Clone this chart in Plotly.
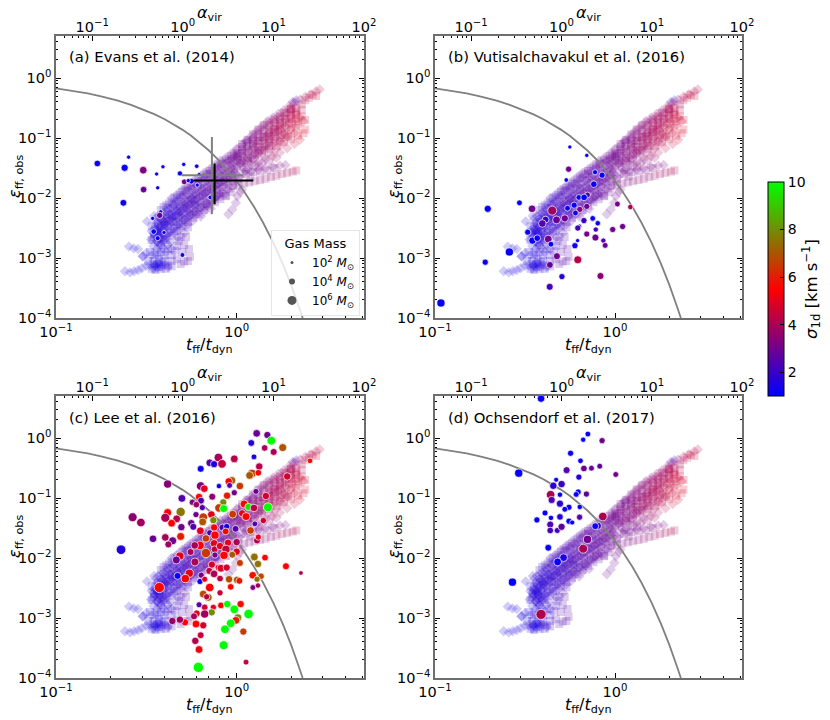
import plotly.graph_objects as go

FONT = "DejaVu Sans"
W, H = 830, 720

# ---- shared theory curve
curve_x = [.1,.12,.15,.18,.22,.26,.3,.35,.4,.45,.5,.56,.63,.7,.8,.9,1,1.1,1.25,1.4,1.6,1.8,2,2.2,2.32]
curve_eps = [.673,.622,.552,.49,.419,.357,.305,.25,.205,.168,.138,.109,.0824,.0625,.0421,.0283,.0191,.0128,
             .00708,.00391,.00177,.0008,.00036,.00016,.0001]

# ---- simulation cloud: (log10 tff/tdyn, log10 eps, sigma)
sq_low_branch = [(-.02,-1.80,2.8),(.01,-1.78,3.0),(.04,-1.76,3.1),(.07,-1.74,3.2),(.10,-1.72,3.3),(.13,-1.70,3.4),(.16,-1.68,3.5),
                 (.19,-1.65,3.6),(.22,-1.63,3.7),(.25,-1.60,3.8),(.28,-1.58,3.9),(.31,-1.56,4.0),(.33,-1.54,4.1)]
sq_t2 = [(.0,-1.25,2.9),(.03,-1.19,3.0),(.06,-1.13,3.1),(.09,-1.06,3.2),(.12,-.99,3.3),(.15,-.93,3.5),(.18,-.87,3.6),(.21,-.80,3.7),
         (.24,-.74,3.8),(.27,-.68,3.9),(.30,-.62,4.0),(.33,-.56,4.2),(.36,-.53,4.3)]
sq_t3 = [(-.03,-1.38,2.8),(.01,-1.30,2.9),(.05,-1.22,3.1),(.09,-1.14,3.3),(.13,-1.05,3.5),(.17,-.97,3.7),(.21,-.90,3.9),(.25,-.82,4.1),
         (.29,-.75,4.3),(.33,-.68,4.5),(.36,-.64,4.7)]
sq_t5 = [(.02,-1.38,3.0),(.06,-1.33,3.2),(.1,-1.28,3.4),(.14,-1.22,3.6),(.18,-1.18,3.8),(.22,-1.13,4.0),(.26,-1.07,4.2),(.3,-1.02,4.4),
         (.34,-.96,4.6),(.37,-.92,4.8)]
sq_m1 = [(-.42,-2.20,1.9),(-.39,-2.12,2.0),(-.36,-2.06,2.0),(-.33,-1.98,2.1),(-.3,-1.90,2.2),(-.27,-1.83,2.3),(-.24,-1.76,2.4),
         (-.21,-1.69,2.4),(-.18,-1.62,2.5),(-.15,-1.55,2.6),(-.12,-1.50,2.7),(-.09,-1.44,2.7),(-.06,-1.37,2.8),(-.03,-1.30,2.9)]
sq_m3 = [(-.45,-2.48,1.8),(-.42,-2.40,1.8),(-.39,-2.33,1.9),(-.36,-2.26,2.0),(-.33,-2.18,2.0),(-.30,-2.11,2.1),(-.27,-2.04,2.2),
         (-.24,-1.97,2.3),(-.21,-1.91,2.3),(-.18,-1.84,2.4),(-.15,-1.78,2.5),(-.12,-1.71,2.6),(-.09,-1.65,2.6),(-.06,-1.59,2.7),
         (-.03,-1.53,2.8),(0,-1.47,2.8)]
sq_m5 = [(-.47,-2.70,1.7),(-.44,-2.62,1.8),(-.41,-2.55,1.8),(-.38,-2.47,1.9),(-.35,-2.40,1.9),(-.32,-2.33,2.0),(-.29,-2.26,2.1),
         (-.26,-2.19,2.2),(-.23,-2.12,2.2),(-.20,-2.06,2.3),(-.17,-2.00,2.4),(-.14,-1.93,2.5),(-.11,-1.87,2.6),(-.08,-1.82,2.6),
         (-.05,-1.77,2.7),(-.02,-1.72,2.8),(.01,-1.68,2.9)]
sq_m7 = [(-.42,-2.78,1.9),(-.39,-2.70,1.9),(-.36,-2.63,2.0),(-.33,-2.55,2.1),(-.30,-2.47,2.1),(-.27,-2.40,2.2),(-.24,-2.33,2.3),
         (-.21,-2.27,2.4),(-.18,-2.20,2.5),(-.15,-2.13,2.5),(-.12,-2.07,2.6),(-.09,-2.02,2.7),(-.06,-1.96,2.7),(-.03,-1.90,2.8)]
sq_a1 = [(-.405,-2.15,1.9),(-.375,-2.09,2.0),(-.345,-2.01,2.1),(-.315,-1.95,2.2),(-.285,-1.87,2.3),(-.255,-1.80,2.3),(-.225,-1.74,2.4),
         (-.195,-1.66,2.5),(-.165,-1.60,2.6),(-.135,-1.54,2.6),(-.105,-1.47,2.7),(-.075,-1.41,2.8),(-.045,-1.35,2.8),(-.015,-1.28,2.9)]
sq_a2 = [(-.435,-2.42,1.8),(-.405,-2.35,1.9),(-.375,-2.28,2.0),(-.345,-2.21,2.0),(-.315,-2.14,2.1),(-.285,-2.07,2.2),(-.255,-2.01,2.3),
         (-.225,-1.94,2.4),(-.195,-1.88,2.4),(-.165,-1.82,2.5),(-.135,-1.75,2.6),(-.105,-1.69,2.7),(-.075,-1.63,2.7),(-.045,-1.57,2.8),(-.015,-1.51,2.9)]
sq_a3 = [(-.455,-2.60,1.7),(-.425,-2.53,1.8),(-.395,-2.45,1.9),(-.365,-2.38,1.9),(-.335,-2.30,2.0),(-.305,-2.24,2.1),(-.275,-2.17,2.2),
         (-.245,-2.10,2.3),(-.215,-2.03,2.3),(-.185,-1.97,2.4),(-.155,-1.91,2.5),(-.125,-1.85,2.6),(-.095,-1.79,2.6),(-.065,-1.73,2.7),(-.035,-1.67,2.8)]
sq_a4 = [(-.435,-2.74,1.8),(-.405,-2.66,1.9),(-.375,-2.58,1.9),(-.345,-2.51,2.0),(-.315,-2.44,2.1),(-.285,-2.37,2.1),(-.255,-2.29,2.2),
         (-.225,-2.23,2.3),(-.195,-2.16,2.4),(-.165,-2.10,2.5),(-.135,-2.04,2.5),(-.105,-1.98,2.6),(-.075,-1.93,2.7)]
sq_foot = [(-.36,-3.05,2.1),(-.33,-3.02,2.2),(-.31,-3.10,2.3),(-.29,-3.06,2.4),(-.264,-2.85,2.6),(-.258,-2.98,2.6),(-.27,-3.05,2.5),
           (-.28,-2.65,2.5),(-.27,-2.49,2.3),(-.32,-2.72,2.1),(-.34,-2.88,2.0),(-.30,-2.90,2.4),(-.40,-3.05,1.6),(-.43,-3.02,1.5),
           (-.46,-3.05,1.6),(-.38,-3.12,1.7),(-.44,-2.92,1.6),(-.40,-2.95,1.7),(-.48,-2.90,1.5),(-.455,-3.10,1.5),(-.43,-3.15,1.6),
           (-.41,-3.07,1.6),(-.47,-3.18,1.5),(-.45,-3.20,1.6),(-.42,-3.18,1.7),(-.39,-3.18,1.8),(-.36,-3.14,1.9),(-.49,-3.05,1.5),
           (-.45,-2.95,1.6),(-.42,-2.90,1.7),(-.38,-2.85,1.8),(-.36,-2.95,1.9),(-.46,-2.65,1.6),(-.43,-2.62,1.7),(-.33,-2.80,2.1),
           (-.31,-2.65,2.2),(-.29,-2.78,2.3)]
sq_end = [(.40,-.33,4.4),(.42,-.28,4.5),(.44,-.30,4.6),(.38,-.37,4.3),(.36,-.44,4.2),(.33,-.50,4.0),(.30,-.52,3.9),(.38,-.70,4.6),
          (.34,-.72,4.4),(.38,-.86,5.0)]
sq_u1 = [(.0,-1.32,2.9),(.03,-1.25,3.1),(.06,-1.19,3.2),(.09,-1.10,3.4),(.12,-1.04,3.5),(.15,-.98,3.7),(.18,-.91,3.8),(.21,-.86,4.0),
         (.24,-.79,4.1),(.27,-.73,4.2),(.30,-.68,4.4),(.33,-.61,4.5)]
sq_u2 = [(.03,-1.42,3.0),(.06,-1.38,3.1),(.09,-1.33,3.3),(.12,-1.26,3.5),(.15,-1.20,3.7),(.18,-1.13,3.9),(.21,-1.06,4.1),(.24,-1.0,4.3),
         (.27,-.94,4.4),(.30,-.88,4.6),(.33,-.83,4.8)]
sq_u3 = [(.03,-1.10,2.9),(.06,-1.03,3.0),(.09,-.94,3.2),(.12,-.86,3.3),(.15,-.79,3.5),(.18,-.74,3.6),(.21,-.69,3.7),(.24,-.64,3.8),
         (.27,-.58,3.9),(.30,-.52,4.0)]
sq_u4 = [(.05,-1.60,2.9),(.09,-1.57,3.0),(.13,-1.56,3.1),(.17,-1.54,3.2),(.21,-1.50,3.2)]
sq_fill = [(-.47,-2.47,1.6),(-.428,-2.59,1.7),(-.402,-2.49,1.8),(-.381,-2.17,1.9),(-.359,-2.31,1.9),(-.338,-2.39,2.0),(-.318,-2.21,2.1),
           (-.297,-2.33,2.2),(-.277,-1.88,2.3),(-.256,-2.03,2.3),(-.236,-2.16,2.4),(-.214,-1.77,2.5),(-.193,-1.84,2.5),(-.172,-1.97,2.6),
           (-.149,-1.59,2.7),(-.128,-1.64,2.7),(-.106,-1.52,2.8),(-.084,-1.43,2.9),(-.061,-1.97,2.8),(-.039,-1.84,2.9),(-.017,-1.33,3.0),
           (.007,-1.27,3.1),(.031,-1.15,3.1),(.054,-1.08,3.2),(.076,-1.64,3.1),(.099,-1.35,3.5),(.122,-1.48,3.4),(.145,-.99,3.7),
           (.168,-.78,3.7),(.191,-1.24,3.9),(.214,-.98,4.1),(.237,-.76,4.1),(.26,-.58,4.0),(.284,-.98,4.5),(.308,-.76,4.5),
           (.155,-1.09,3.8),(.18,-1.02,3.9),(.205,-.93,4.0),(.23,-.86,4.1),(.25,-.95,4.2),(.12,-1.15,3.6),(.10,-1.2,3.5)]

di_t1 = [(.05,-1.05,2.8),(.08,-.97,2.9),(.11,-.88,3.0),(.14,-.80,3.1),(.17,-.72,3.2),(.20,-.66,3.3),(.23,-.60,3.4),(.26,-.54,3.5),
         (.29,-.47,3.6),(.32,-.41,3.7),(.35,-.36,3.8),(.38,-.31,4.0),(.41,-.27,4.1),(.44,-.22,4.2),(.46,-.19,4.3),(.33,-.37,2.0),(.31,-.40,2.2)]
di_t4 = [(.02,-1.42,3.0),(.06,-1.34,3.2),(.1,-1.26,3.4),(.14,-1.17,3.6),(.18,-1.08,3.8),(.22,-1.0,4.0),(.26,-.93,4.2),(.3,-.85,4.4),
         (.34,-.79,4.6),(.37,-.72,4.8)]
di_t6 = [(.04,-1.5,2.9),(.08,-1.45,3.0),(.12,-1.40,3.2),(.16,-1.35,3.4),(.2,-1.3,3.7),(.24,-1.24,4.0),(.28,-1.17,4.3),(.32,-1.1,4.6),
         (.35,-1.03,4.9)]
di_t7 = [(.0,-1.62,2.7),(.04,-1.58,2.8),(.08,-1.55,2.8),(.12,-1.53,2.9),(.16,-1.50,3.0),(.2,-1.48,3.0),(.24,-1.46,3.1),(.27,-1.45,3.1)]
di_m2 = [(-.45,-2.35,1.8),(-.42,-2.28,1.8),(-.39,-2.22,1.9),(-.36,-2.16,2.0),(-.33,-2.08,2.1),(-.30,-2.0,2.2),(-.27,-1.94,2.3),
         (-.24,-1.87,2.3),(-.21,-1.80,2.4),(-.18,-1.74,2.5),(-.15,-1.67,2.6),(-.12,-1.61,2.6),(-.09,-1.55,2.7),(-.06,-1.49,2.8),
         (-.03,-1.43,2.8),(0,-1.38,2.9)]
di_m4 = [(-.46,-2.58,1.7),(-.43,-2.50,1.8),(-.40,-2.43,1.8),(-.37,-2.36,1.9),(-.34,-2.29,2.0),(-.31,-2.22,2.1),(-.28,-2.15,2.1),
         (-.25,-2.08,2.2),(-.22,-2.01,2.3),(-.19,-1.95,2.4),(-.16,-1.88,2.5),(-.13,-1.82,2.5),(-.10,-1.76,2.6),(-.07,-1.70,2.7),
         (-.04,-1.64,2.8),(-.01,-1.58,2.8)]
di_m6 = [(-.44,-2.72,1.7),(-.41,-2.65,1.8),(-.38,-2.58,1.9),(-.35,-2.50,1.9),(-.32,-2.43,2.0),(-.29,-2.36,2.1),(-.26,-2.30,2.2),
         (-.23,-2.22,2.3),(-.20,-2.16,2.3),(-.17,-2.09,2.4),(-.14,-2.03,2.5),(-.11,-1.97,2.6),(-.08,-1.91,2.6),(-.05,-1.86,2.7)]
di_a1 = [(-.36,-2.0,2.0),(-.33,-1.94,2.1),(-.30,-1.86,2.2),(-.27,-1.79,2.3),(-.24,-1.72,2.4),(-.21,-1.65,2.4),(-.18,-1.58,2.5),
         (-.15,-1.52,2.6),(-.12,-1.45,2.7),(-.09,-1.38,2.7),(-.06,-1.33,2.8),(-.03,-1.26,2.9),(0,-1.20,3.0)]
di_a2 = [(-.435,-2.30,1.8),(-.405,-2.25,1.9),(-.375,-2.19,1.9),(-.345,-2.12,2.0),(-.315,-2.05,2.1),(-.285,-1.98,2.2),(-.255,-1.91,2.3),
         (-.225,-1.84,2.3),(-.195,-1.77,2.4),(-.165,-1.71,2.5),(-.135,-1.65,2.6),(-.105,-1.58,2.7),(-.075,-1.52,2.7),(-.045,-1.46,2.8),(-.015,-1.40,2.9)]
di_a3 = [(-.445,-2.53,1.7),(-.415,-2.47,1.8),(-.385,-2.40,1.9),(-.355,-2.33,1.9),(-.325,-2.26,2.0),(-.295,-2.18,2.1),(-.265,-2.12,2.2),
         (-.235,-2.05,2.3),(-.205,-1.98,2.3),(-.175,-1.92,2.4),(-.145,-1.85,2.5),(-.115,-1.79,2.6),(-.085,-1.73,2.6),(-.055,-1.67,2.7),(-.025,-1.61,2.8)]
di_a4 = [(-.425,-2.69,1.8),(-.395,-2.62,1.8),(-.365,-2.55,1.9),(-.335,-2.47,2.0),(-.305,-2.40,2.1),(-.275,-2.33,2.1),(-.245,-2.26,2.2),
         (-.215,-2.19,2.3),(-.185,-2.13,2.4),(-.155,-2.07,2.5),(-.125,-2.0,2.5),(-.095,-1.94,2.6)]
di_u1 = [(.0,-1.18,2.9),(.03,-1.12,3.0),(.06,-1.05,3.1),(.09,-1.0,3.3),(.12,-.93,3.4),(.15,-.87,3.5),(.18,-.80,3.7),(.21,-.74,3.8),
         (.24,-.68,3.9),(.27,-.61,4.0),(.30,-.55,4.1)]
di_u2 = [(.0,-1.33,2.9),(.03,-1.27,3.0),(.07,-1.20,3.2),(.11,-1.12,3.4),(.15,-1.03,3.6),(.19,-.96,3.8),(.23,-.88,4.0),(.27,-.80,4.2),
         (.31,-.72,4.4),(.35,-.66,4.6)]
di_u3 = [(.04,-1.40,3.0),(.08,-1.33,3.2),(.12,-1.25,3.4),(.16,-1.16,3.6),(.2,-1.10,3.8),(.24,-1.05,4.0),(.28,-.98,4.2),(.32,-.92,4.4)]
di_u4 = [(.06,-1.52,3.0),(.1,-1.46,3.1),(.14,-1.42,3.2),(.18,-1.38,3.5),(.22,-1.33,3.7)]
di_hook = [(-.046,-2.27,2.8),(-.024,-2.19,2.8),(-.004,-2.08,2.9),(.004,-1.97,2.9),(.02,-1.90,3.0),(.03,-1.86,3.0)]
di_tail = [(-.618,-3.22,1.4),(-.59,-3.24,1.4),(-.568,-3.22,1.4),(-.545,-3.20,1.4),(-.524,-3.17,1.5),(-.50,-3.13,1.5),(-.48,-3.12,1.6),
           (-.457,-3.13,1.6),(-.44,-3.08,1.6),(-.42,-3.10,1.7),(-.40,-3.12,1.8),(-.38,-3.15,1.9),(-.596,-2.81,1.4),(-.57,-2.84,1.4),
           (-.546,-2.85,1.5),(-.52,-2.97,1.5),(-.50,-2.92,1.5),(-.474,-2.69,1.6),(-.46,-2.80,1.6),(-.44,-2.72,1.7),(-.42,-2.78,1.7),
           (-.40,-2.70,1.8),(-.38,-2.78,1.9),(-.36,-2.85,2.0),(-.496,-2.39,1.5),(-.457,-2.30,1.6),(-.435,-2.55,1.6),(-.40,-2.39,1.8),
           (-.519,-2.97,1.5),(-.47,-2.55,1.6)]
di_fill = [(-.452,-2.62,1.6),(-.441,-2.41,1.7),(-.419,-2.34,1.8),(-.413,-2.71,1.7),(-.396,-2.29,1.8),(-.388,-2.62,1.8),(-.374,-2.44,1.9),
           (-.367,-2.73,1.9),(-.352,-2.11,2.0),(-.346,-2.58,2.0),(-.331,-2.06,2.1),(-.326,-2.66,2.1),(-.311,-2.51,2.1),(-.303,-1.97,2.2),
           (-.289,-2.58,2.2),(-.283,-2.11,2.2),(-.271,-2.44,2.3),(-.263,-2.25,2.3),(-.248,-1.82,2.4),(-.243,-2.38,2.3),(-.229,-1.93,2.4),
           (-.222,-2.28,2.4),(-.207,-2.08,2.5),(-.199,-2.31,2.5),(-.186,-1.66,2.6),(-.179,-2.22,2.5),(-.164,-2.13,2.6),(-.157,-1.72,2.6),
           (-.143,-2.18,2.6),(-.136,-1.88,2.7),(-.121,-2.01,2.7),(-.113,-1.79,2.7),(-.098,-1.92,2.8),(-.091,-1.68,2.8),(-.076,-1.81,2.8),
           (-.069,-1.56,2.9),(-.053,-1.71,2.9),(-.046,-1.39,3.0),(-.032,-1.49,3.0),(-.024,-1.62,3.0),(-.009,-1.77,3.0),(-.002,-1.52,3.0),
           (.014,-1.66,3.0),(.023,-1.43,3.2),(.038,-1.32,3.3),(.046,-1.54,3.1),(.061,-1.26,3.4),(.069,-1.41,3.4),(.084,-1.02,3.3),
           (.092,-1.18,3.5),(.107,-.92,3.4),(.114,-1.07,3.6),(.129,-1.21,3.7),(.137,-.84,3.5),(.152,-1.31,3.7),(.16,-1.12,3.9),
           (.176,-.93,3.9),(.183,-1.03,4.0),(.198,-.71,3.8),(.206,-.84,4.0),(.222,-1.17,4.1),(.229,-.65,3.9),(.245,-.88,4.2),
           (.253,-1.09,4.3),(.268,-.69,4.2),(.276,-.83,4.4),(.292,-.51,4.2),(.3,-.63,4.3),(.316,-.45,4.3),(.324,-.58,4.4)]
di_core = [(-.455,-2.52,1.5),(-.44,-2.57,1.5),(-.43,-2.46,1.6),(-.425,-2.62,1.6),(-.41,-2.53,1.6),(-.45,-3.12,1.4),(-.44,-3.16,1.4),
           (-.43,-3.09,1.4),(-.42,-3.14,1.5),(-.46,-3.17,1.4),(-.41,-2.38,1.7),(-.39,-2.44,1.7),(-.37,-2.27,1.8),(-.35,-2.35,1.8),
           (-.33,-2.21,1.9),(-.31,-2.29,1.9),(-.29,-2.13,2.0),(-.27,-2.22,2.0),(-.25,-2.01,2.1),(-.23,-2.10,2.1),(-.47,-2.95,1.5),
           (-.44,-2.85,1.5),(-.41,-2.83,1.6),(-.39,-2.90,1.6)]

cloud_squares = (sq_low_branch + sq_t2 + sq_t3 + sq_t5 + sq_m1 + sq_m3 + sq_m5 + sq_m7 + sq_a1 + sq_a2 + sq_a3 + sq_a4
                 + sq_foot + sq_end + sq_u1 + sq_u2 + sq_u3 + sq_u4 + sq_fill)
cloud_diamonds = (di_t1 + di_t4 + di_t6 + di_t7 + di_m2 + di_m4 + di_m6 + di_a1 + di_a2 + di_a3 + di_a4
                  + di_u1 + di_u2 + di_u3 + di_u4 + di_hook + di_tail + di_fill + di_core)

# ---- observations: (log10 tff/tdyn, log10 eps, sigma, log10 mass)
evans = [(-.771,-1.425,1.2,3.2),(-.598,-1.32,1.1,2),(-.62,-1.497,1.2,3.5),(-.517,-1.536,3.2,3.7),(-.408,-1.48,1.2,2),(-.443,-1.60,1.2,2),
         (-.314,-1.59,1.2,2.5),(-.293,-1.44,1.2,2),(-.221,-1.47,1.5,2.2),(-.207,-1.61,1.2,2),(-.29,-1.73,3,2.8),(-.515,-1.86,2.8,3.2),
         (-.437,-1.83,1.2,2),(-.627,-2.08,1.2,3.3),(-.251,-1.72,1.3,2.8),(-.218,-1.785,1.2,2),(-.268,-1.71,1.2,2),(-.146,-1.99,1.3,2.2),
         (-.42,-2.23,1.2,2),(-.426,-2.29,2.8,3),(-.465,-2.34,1.2,2),(-.459,-2.56,1.2,2.7),(-.437,-2.67,1.2,2.4),(-.402,-2.575,1.2,2),(-.30,-2.95,1.3,2.3)]
vutisalchavakul = [(-.967,-3.75,1.1,4),(-.587,-2.90,1.1,4),(-.721,-3.07,1.1,3),(-.707,-2.18,1.1,3.5),(-.531,-2.08,1.1,2.8),(-.461,-2.18,3,3.7),
         (-.251,-1.15,1.2,2),(-.157,-1.29,1.1,2),(-.258,-1.52,3,3),(-.271,-1.70,1.2,2.2),(-.111,-1.57,1.2,2.5),(-.072,-1.62,1.2,3),
         (-.118,-1.77,1.2,3.2),(-.153,-1.95,2.5,2.8),(-.201,-1.99,1.2,2.8),(-.172,-1.99,1.2,3.2),(.013,-2.10,3,2.8),(.085,-2.15,4,2.6),
         (-.349,-2.21,3.8,4.4),(-.157,-2.14,3,3),(-.196,-2.19,3.3,3),(-.227,-2.12,1.2,3),(-.264,-2.17,1.2,2.8),(-.22,-2.25,1.5,2.8),
         (-.386,-2.36,1.8,3.3),(-.325,-2.365,2.8,3.8),(-.279,-2.34,3,3.5),(-.404,-2.425,2.5,3.7),(-.173,-2.376,2,3),(-.124,-2.34,1.2,2.7),
         (-.096,-2.42,1.2,2.6),(-.485,-2.57,1.2,3),(-.197,-2.47,1.4,2),(-.207,-2.50,2.2,3),(-.107,-2.525,2.2,2.5),(-.013,-2.525,3,3),
         (.042,-2.475,3,3),(-.459,-2.71,1.2,3.6),(-.432,-2.67,1.2,3.2),(-.371,-2.685,3,3.8),(-.356,-2.77,1.2,2.8),(-.157,-2.60,3,3),
         (-.109,-2.66,3,3.4),(-.208,-2.71,1.2,2),(-.223,-2.795,1.2,3),(-.065,-2.71,2.5,2.5),(-.055,-2.79,2.8,2.8),(-.323,-2.97,3,3.4),
         (-.362,-3.115,2.8,3.3),(-.207,-3.03,4.2,3.9),(-.295,-3.31,1.6,3),(-.081,-3.30,3.5,3.4),(-.363,-3.48,2.2,3.4)]
lee = [(.111,.077,2.8,3.7),(.17,.05,3,3.5),(.192,-.044,10,4.3),(.081,-.083,1.6,3.3),(.255,-.16,7,3.9),(.155,-.166,4,3.2),(.205,-.232,4,3.4),
       (.406,-.381,5.8,2.7),(.096,-.315,1.5,2.8),(-.013,-.348,4.2,3.8),(-.101,-.326,4,4.2),(-.149,-.414,2.5,3.7),(-.125,-.436,1.5,3.5),
       (-.081,-.431,4.5,4.2),(-.199,-.514,1.2,3.4),(.125,-.475,4.2,3.6),(.085,-.591,6.5,4),(.072,-.624,7,3.8),(.12,-.58,5.5,3.2),
       (.28,-.641,4.8,3.6),(-.026,-.707,7.2,3.8),(-.044,-.724,5.5,3.6),(-.382,-.768,3.4,4),(-.199,-.801,3.3,4.2),(-.179,-.845,5,3.7),
       (-.098,-.801,1.2,2.6),(-.039,-.79,2.5,2.8),(.018,-.801,6.5,3.7),(-.303,-1.006,2.4,3.8),(-.208,-.983,5.5,3.6),(-.135,-.978,3.5,3.4),
       (-.053,-.961,6,3.6),(-.013,-.912,3,3),(.107,-.89,2.8,2.9),(.162,-.967,4.6,3.6),(-.245,-1.072,3.3,3.1),(-.197,-1.044,2.4,3.3),
       (-.19,-1.16,2.4,3),(-.223,-1.11,3.8,3.2),(-.074,-1.072,8,3.5),(-.098,-1.166,6.5,4.1),(-.072,-1.177,10,3.9),(.041,-1.1,5.6,3.9),
       (.065,-1.149,9.5,3.5),(.096,-1.166,4.3,3.7),(.173,-1.155,10,4.4),(-.31,-1.232,7.6,4.5),(-.382,-1.243,5.5,3.9),(-.225,-1.276,3,3),
       (-.14,-1.276,5,3.7),(-.185,-1.32,6.5,4.2),(-.576,-1.32,3.5,4.4),(-.53,-1.409,3.8,4.2),(-.395,-1.33,4,4.4),(-.332,-1.348,4.2,3.8),
       (-.36,-1.42,5.5,3.8),(-.306,-1.486,3,3.6),(-.251,-1.42,2.8,3.6),(-.24,-1.48,2.4,3.4),(-.188,-1.398,7,3.8),(-.129,-1.37,8,3.5),
       (-.125,-1.492,5.5,3.6),(-.079,-1.492,2.4,3.3),(-.055,-1.475,1.4,3),(-.022,-1.27,6.5,3.8),(.03,-1.254,5,3.5),(.052,-1.31,5.5,3.9),
       (-.006,-1.514,2.5,3.3),(.077,-1.541,6.5,3.7),(.101,-1.431,2.4,2.8),(.148,-1.376,4.6,3.1),(.113,-1.707,4,3.4),(.12,-1.652,5,3),
       (-.31,-1.641,6,3.9),(-.463,-1.68,2.8,3.7),(-.395,-1.657,4,3.7),(-.354,-1.713,3,3.9),(-.378,-1.773,3.8,3.4),(-.64,-1.862,1.6,4.7),
       (-.201,-1.547,5,3.8),(-.149,-1.58,2.4,3),(-.17,-1.674,6.5,3.7),(-.12,-1.619,5.5,4),(-.061,-1.558,5.5,3.3),(0,-1.735,4,3.6),
       (-.203,-1.79,5.5,4.2),(-.232,-1.79,4,3.7),(-.17,-1.917,6.5,4.6),(-.125,-1.757,5,3.8),(-.122,-1.856,4.5,3.4),(-.092,-1.801,5,3.6),
       (-.048,-1.746,5,3.6),(-.059,-1.856,4.5,4),(-.07,-1.956,5.5,4),(0,-1.895,5,3.6),(-.024,-1.945,7,3.3),(-.12,-1.95,3,3),
       (-.255,-1.9,4,3.4),(-.314,-1.967,5,4),(-.334,-2.033,3,3.9),(-.231,-2.066,4,3.9),(.098,-1.983,7.5,3.8),(.118,-2.1,7.5,3.6),
       (.157,-1.994,5.5,3.2),(.273,-2.138,5.5,3.4),(.356,-2.249,4,2.2),(.018,-2.083,6.5,3.4),(-.262,-2.254,5,4),(-.284,-2.343,5.5,4),
       (-.327,-2.298,1.2,3.4),(-.203,-2.392,1.2,3),(-.196,-2.287,3,3),(-.177,-2.354,5,2.9),(-.151,-2.215,4.5,3.5),(-.125,-2.265,4,3.7),
       (-.137,-2.11,4.8,3.5),(-.101,-2.16,5,3.2),(-.087,-2.171,4.8,3.8),(-.055,-2.16,4.6,3.5),(-.092,-2.343,4.5,3.2),(-.042,-2.354,6.8,3.6),
       (.002,-2.365,7,3.6),(.015,-2.381,5.8,3.3),(.089,-2.287,5.8,3.7),(.135,-2.304,6.8,3.2),(.113,-2.354,7.5,3),(.09,-2.492,3.2,2.8),
       (.118,-2.459,3.8,2.6),(-.428,-2.492,5.6,5),(-.149,-2.492,5.5,4.2),(-.033,-2.481,5.5,3.2),(-.092,-2.58,4.5,3),(-.185,-2.602,6.8,3.8),
       (-.157,-2.657,7.5,3.8),(-.166,-2.646,4.2,3),(-.208,-2.779,2.5,2.9),(-.177,-2.823,4.6,3.2),(-.129,-2.823,5,3),(-.087,-2.79,5.5,3.2),
       (-.052,-2.768,10,3.6),(-.013,-2.856,10,4.2),(.022,-2.768,5.8,3.6),(.066,-2.934,10,4.6),(.007,-2.994,8,3.8),(-.004,-3.039,6,3.8),
       (-.033,-3.088,10,4.2),(-.065,-3.188,10,4.2),(.037,-3.227,6.5,3.5),(-.138,-2.906,8,3.5),(-.221,-2.923,5,3.4),(-.236,-2.972,4,3.4),
       (-.177,-2.934,3.8,4),(-.286,-3.072,5.5,3.5),(-.314,-3.028,3.8,3.6),(-.356,-3.05,3.6,3.6),(-.225,-3.1,5.5,3.8),(-.185,-3.122,4.8,3.5),
       (-.199,-3.287,4.5,3.3),(-.229,-3.381,4.2,3.6),(-.208,-3.525,5.2,3.8),(-.072,-3.453,10,4.4),(-.212,-3.823,10,5),(.052,-3.735,4.5,2.8)]
ochsendorf = [(-.411,.657,1.1,3.7),(-.151,.066,1.2,2.8),(-.177,-.028,1.1,2.5),(-.072,-.044,3,3),(-.247,-.254,1.1,3),(-.192,-.381,1.2,2.7),
       (-.269,-.536,2.5,3.4),(-.173,-.508,2.8,3.2),(-.131,-.503,2.8,2.8),(-.085,-.47,2.7,2.8),(.004,-.608,3,2.8),(-.535,-.586,1.1,4),
       (-.201,-.652,1.6,3),(-.327,-.696,1.1,2.4),(-.343,-.796,1.8,3.6),(-.297,-.768,2,3.6),(-.306,-.945,1.1,2.6),(-.358,-.945,4,4.2),
       (-.205,-.90,1.1,3),(-.216,-.94,1.1,2.8),(-.159,-.934,2.5,3),(-.352,-1.033,2.4,3.5),(-.306,-1.094,1.7,3.5),(-.256,-1.155,1.1,3),
       (-.279,-1.188,1.1,2.8),(-.196,-1.149,1.1,2.6),(-.389,-1.249,1.1,2.9),(-.434,-1.365,1.1,3),(-.356,-1.331,1.1,2.6),(-.306,-1.315,1.6,3.2),
       (-.256,-1.387,1.1,3),(-.238,-1.409,1.1,2.4),(-.197,-1.32,2.5,3),(-.36,-1.442,2.4,3.4),(-.36,-1.541,2.3,3.2),(-.321,-1.541,2.2,2.9),
       (-.297,-1.48,2.7,3.5),(-.068,-1.309,4,4.2),(-.096,-1.464,2,3.6),(-.11,-1.47,1.3,3.3),(-.153,-1.69,3,4),(-.177,-1.845,4,4.4),
       (-.371,-1.829,1.1,3.3),(-.286,-1.994,1.5,3.8),(-.319,-2.066,1.1,3.8),(-.57,-2.403,1.1,4),(-.411,-2.94,4.1,5)]

# black and grey error crosses of panel (a): (x low, x centre, x high, y low, y centre, y high) in log10
cross_black = (-.24,-.122,.092,-2.105,-1.707,-1.425)
cross_grey = (-.304,-.137,.037,-2.27,-1.62,-.983)

legend_masses = [2, 4, 6]
panel_titles = ["(a) Evans et al. (2014)", "(b) Vutisalchavakul et al. (2016)", "(c) Lee et al. (2016)", "(d) Ochsendorf et al. (2017)"]
panel_data = [evans, vutisalchavakul, lee, ochsendorf]
panel_box = [(56,364,36,318),(435,742,36,318),(56,364,396,678),(435,742,396,678)]

xtick_major = [.1, 1]
xtick_text = ["10<sup>\u22121</sup>", "10<sup>0</sup>"]
atick_major = [.1, 1, 10, 100]
atick_text = ["10<sup>\u22121</sup>", "10<sup>0</sup>", "10<sup>1</sup>", "10<sup>2</sup>"]
ytick_major = [1e-4, 1e-3, 1e-2, 1e-1, 1]
ytick_text = ["10<sup>\u22124</sup>", "10<sup>\u22123</sup>", "10<sup>\u22122</sup>", "10<sup>\u22121</sup>", "10<sup>0</sup>"]


def size(lgm):
    return 2.0 * lgm + 0.2


def pw(vals):
    return [10 ** v for v in vals]


def minor(decades, lo, hi):
    return [m * 10.0 ** d for d in decades for m in range(2, 10) if lo <= m * 10.0 ** d <= hi]


fig = go.Figure()
layout = {}
annos = []
SPINE = "#6e6e6e"
TITLE_SIZE = 16
TICK_SIZE = 14.5
axis_common = dict(type="log", showgrid=False, zeroline=False, showline=True, linecolor=SPINE, linewidth=1.5,
                   ticks="inside", ticklen=5, tickcolor="black", tickwidth=1,
                   tickfont=dict(family=FONT, size=TICK_SIZE, color="black"), layer="above traces")

for i, (data, title, box) in enumerate(zip(panel_data, panel_titles, panel_box)):
    xa, ya, ta = 3 * i + 1, 3 * i + 1, 3 * i + 2
    xn = f"x{xa}" if xa > 1 else "x"
    yn = f"y{ya}" if ya > 1 else "y"
    tn = f"x{ta}"
    xk, yk, tk = xn.replace("x", "xaxis"), yn.replace("y", "yaxis"), tn.replace("x", "xaxis")
    l, r, t, b = box
    layout[xk] = dict(axis_common, domain=[l / W, r / W], anchor=yn, range=[-1, .705], tickmode="array",
                      tickvals=xtick_major, ticktext=xtick_text, side="bottom",
                      minor=dict(tickmode="array", tickvals=minor([-1, 0], .1, 5.07), ticks="inside", ticklen=2.5, tickcolor="black"))
    layout[yk] = dict(axis_common, domain=[1 - b / H, 1 - t / H], anchor=xn, range=[-4, .7], tickmode="array",
                      tickvals=ytick_major, ticktext=ytick_text, side="left", mirror="ticks",
                      minor=dict(tickmode="array", tickvals=minor([-4, -3, -2, -1, 0], 1e-4, 5), ticks="inside", ticklen=2.5, tickcolor="black"))
    layout[tk] = dict(axis_common, overlaying=xn, anchor=yn, side="top", range=[-1.4, 2.0], tickmode="array",
                      tickvals=atick_major, ticktext=atick_text, domain=[l / W, r / W], ticklabelstandoff=-4,
                      minor=dict(tickmode="array", tickvals=minor([-2, -1, 0, 1], .04, 100), ticks="inside", ticklen=2.5, tickcolor="black"))

    for cloud, sym, name, sz in ((cloud_squares, "square", "sim squares", 8), (cloud_diamonds, "diamond", "sim diamonds", 8)):
        fig.add_trace(go.Scatter(x=pw([p[0] for p in cloud]), y=pw([p[1] for p in cloud]), mode="markers", xaxis=xn, yaxis=yn,
                                 name=name, showlegend=False, hoverinfo="skip",
                                 marker=dict(symbol=sym, size=sz, color=[p[2] for p in cloud], coloraxis="coloraxis", opacity=.2, line=dict(width=0))))
    fig.add_trace(go.Scatter(x=curve_x, y=curve_eps, mode="lines", xaxis=xn, yaxis=yn, showlegend=False,
                             line=dict(color="#808080", width=1.8)))
    fig.add_trace(go.Scatter(x=pw([p[0] for p in data]), y=pw([p[1] for p in data]), mode="markers", xaxis=xn, yaxis=yn,
                             name=title, showlegend=False,
                             marker=dict(symbol="circle", size=[size(p[3]) for p in data], color=[p[2] for p in data], coloraxis="coloraxis",
                                         opacity=1, line=dict(color="white", width=.7))))
    fig.add_trace(go.Scatter(x=[None], y=[None], xaxis=tn, yaxis=yn, mode="markers", showlegend=False, hoverinfo="skip"))
    annos.append(dict(text=title, xref="paper", yref="paper", x=(l + 11) / W, y=1 - (t + 21) / H, xanchor="left", yanchor="middle",
                      showarrow=False, font=dict(family=FONT, size=14.8, color="black")))
    annos.append(dict(text="<i>t</i><sub>ff</sub>/<i>t</i><sub>dyn</sub>", xref="paper", yref="paper", x=(l + r) / 2 / W, y=1 - (b + 27) / H,
                      xanchor="center", yanchor="middle", showarrow=False, font=dict(family=FONT, size=TITLE_SIZE, color="black")))
    annos.append(dict(text="<i>\u03b1</i><sub>vir</sub>", xref="paper", yref="paper", x=(l + r) / 2 / W, y=1 - (t - 23) / H,
                      xanchor="center", yanchor="middle", showarrow=False, font=dict(family=FONT, size=TITLE_SIZE, color="black")))
    annos.append(dict(text="<i>\u03b5</i><sub>ff, obs</sub>", xref="paper", yref="paper", x=(l - 41) / W, y=1 - (t + b) / 2 / H, textangle=-90,
                      xanchor="center", yanchor="middle", showarrow=False, font=dict(family=FONT, size=TITLE_SIZE, color="black")))

for cross, col in ((cross_grey, "#808080"), (cross_black, "black")):
    xlo, xc, xhi, ylo, yc, yhi = cross
    fig.add_trace(go.Scatter(x=pw([xlo, xhi]), y=pw([yc, yc]), mode="lines", xaxis="x", yaxis="y",
                             showlegend=False, line=dict(color=col, width=2), hoverinfo="skip"))
    fig.add_trace(go.Scatter(x=pw([xc, xc]), y=pw([ylo, yhi]), mode="lines", xaxis="x", yaxis="y",
                             showlegend=False, line=dict(color=col, width=2), hoverinfo="skip"))

for m in legend_masses:
    fig.add_trace(go.Scatter(x=[None], y=[None], mode="markers", xaxis="x", yaxis="y", showlegend=True,
                             name=f"10<sup>{m}</sup> <i>M</i><sub>\u2299</sub>",
                             marker=dict(size=1.5 * m, color="#555555", opacity=1, line=dict(width=0))))

fig.update_layout(
    width=W, height=H, margin=dict(l=0, r=0, t=0, b=0, autoexpand=False), paper_bgcolor="white", plot_bgcolor="white",
    font=dict(family=FONT, color="black"), annotations=annos, **layout,
    showlegend=True,
    legend=dict(x=271 / W, y=1 - 230 / H, xanchor="left", yanchor="top", bgcolor="rgba(255,255,255,0.8)", bordercolor="#e6e6e6", borderwidth=1,
                title=dict(text="Gas Mass", font=dict(family=FONT, size=13), side="top center"), font=dict(family=FONT, size=12),
                itemsizing="trace", tracegroupgap=0),
    coloraxis=dict(cmin=1, cmax=10, colorscale=[[0, "#0000ff"], [.5, "#ff0000"], [1, "#00ff00"]],
                   colorbar=dict(thickness=16, thicknessmode="pixels", len=214, lenmode="pixels", x=768 / W, xanchor="left", xpad=0, ypad=0,
                                 y=1 - 396 / H, yanchor="bottom", tickmode="array", tickvals=[2, 4, 6, 8, 10], ticks="inside", ticklen=4,
                                 tickcolor="black", outlinecolor="black", outlinewidth=1, tickfont=dict(family=FONT, size=14),
                                 title=dict(text="<i>\u03c3</i><sub>1d</sub> [km s<sup>\u22121</sup>]", side="right", font=dict(family=FONT, size=16.5)))),
)

fig.write_html("out.html", config=dict(displayModeBar=False), post_script="document.body.style.margin='0';")
